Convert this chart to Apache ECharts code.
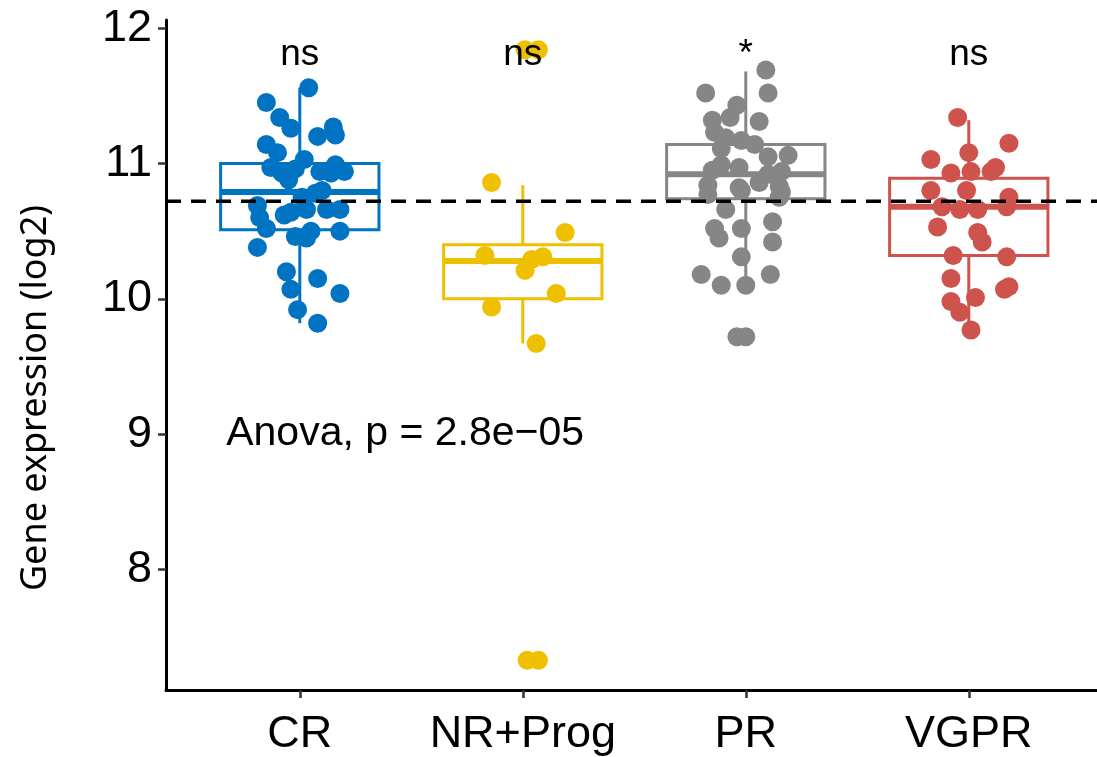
<!DOCTYPE html>
<html>
<head>
<meta charset="utf-8">
<script src="https://cdn.jsdelivr.net/npm/echarts@6/dist/echarts.min.js"></script>
<style>
  html, body { margin: 0; padding: 0; background: #fff; }
  #chart { width: 1097px; height: 757px; }
</style>
</head>
<body>
<div id="chart"></div>
<script>
// groups and colours (jco palette)
var groups = ['CR', 'NR+Prog', 'PR', 'VGPR'];
var colors = ['#0073C2', '#EFC000', '#868686', '#CD534C'];

// box statistics
var boxMin = [9.82, 9.67, 10.09, 9.79];
var boxQ1  = [10.51, 10.00, 10.74, 10.32];
var boxMed = [10.79, 10.28, 10.92, 10.68];
var boxQ3  = [11.00, 10.40, 11.14, 10.89];
var boxMax = [11.56, 10.84, 11.68, 11.32];

// jittered points: offset from group centre (category units) and value
var crJit = [0.04,-0.15,-0.09,-0.04,0.15,0.08,0.16,-0.15,-0.10,0.02,-0.13,-0.08,-0.02,0.09,0.14,0.16,0.20,-0.05,-0.19,-0.18,-0.15,-0.07,-0.04,0.03,0.07,0.12,0.18,0.01,0.10,-0.02,0.03,0.05,0.18,-0.19,-0.06,0.08,-0.04,0.18,-0.01,0.08];
var crVal = [11.56,11.45,11.34,11.26,11.27,11.20,11.21,11.14,11.08,11.03,10.97,10.93,10.96,10.94,10.93,10.99,10.94,10.88,10.69,10.60,10.52,10.62,10.64,10.66,10.78,10.66,10.66,10.75,10.80,10.46,10.45,10.50,10.50,10.38,10.20,10.15,10.07,10.04,9.92,9.82];

var nrJit = [-0.14,-0.17,0.01,0.04,0.09,0.19,0.15,-0.14,0.06,0.01,0.07,0.02,0.07];
var nrVal = [10.86,10.32,10.21,10.29,10.31,10.49,10.04,9.94,9.67,11.84,11.84,7.33,7.33];

var prJit = [0.09,-0.18,0.10,-0.04,-0.07,-0.15,0.06,-0.14,-0.09,-0.02,0.04,-0.11,0.10,0.19,-0.15,-0.03,-0.11,0.10,0.16,-0.17,-0.03,0.06,0.15,0.16,-0.09,-0.14,-0.12,-0.02,0.12,0.12,-0.02,-0.20,-0.11,0.00,0.11,-0.04,0.00,0.15,-0.17,-0.02];
var prVal = [11.69,11.52,11.52,11.43,11.34,11.32,11.31,11.23,11.19,11.17,11.14,11.11,11.05,11.06,10.95,10.97,10.99,10.92,10.94,10.84,10.82,10.86,10.83,10.79,10.66,10.52,10.45,10.52,10.57,10.42,10.31,10.18,10.10,10.10,10.18,9.72,9.72,10.75,10.77,10.80];

var vgJit = [-0.05,0.18,-0.17,0.00,-0.08,0.01,0.10,0.12,-0.17,-0.01,-0.12,-0.04,0.04,0.18,0.17,-0.14,0.04,0.06,-0.07,0.17,-0.08,0.18,0.16,-0.08,-0.04,0.03,0.01];
var vgVal = [11.34,11.15,11.03,11.08,10.93,10.94,10.94,10.97,10.80,10.80,10.68,10.66,10.66,10.75,10.68,10.53,10.49,10.42,10.32,10.31,10.15,10.09,10.07,9.98,9.90,10.01,9.77];

var jits = [crJit, nrJit, prJit, vgJit];
var vals = [crVal, nrVal, prVal, vgVal];

// annotations
var sigLabels = ['ns', 'ns', '*', 'ns'];
var sigY = 11.80;
var refLine = 10.72;
var anovaText = 'Anova, p = 2.8e\u221205';
var anovaPos = [0.67, 9.0];

var yTicks = [8, 9, 10, 11, 12];
var xTicks = [1, 2, 3, 4];

var myChart = echarts.init(document.getElementById('chart'));

var boxData = groups.map(function (g, i) {
  return [i + 1, boxMin[i], boxQ1[i], boxMed[i], boxQ3[i], boxMax[i]];
});

var series = [];

// boxes drawn with custom series (ggplot style: no whisker caps, thick median)
series.push({
  type: 'custom',
  z: 1,
  silent: true,
  data: boxData,
  renderItem: function (params, api) {
    var i = params.dataIndex;
    var x = api.value(0);
    var c = colors[i];
    var half = api.size([0.71, 0])[0] / 2;
    var pMin = api.coord([x, api.value(1)]);
    var pQ1 = api.coord([x, api.value(2)]);
    var pMed = api.coord([x, api.value(3)]);
    var pQ3 = api.coord([x, api.value(4)]);
    var pMax = api.coord([x, api.value(5)]);
    var ls = { stroke: c, lineWidth: 3, fill: null };
    return {
      type: 'group',
      children: [
        { type: 'line', shape: { x1: pMax[0], y1: pMax[1], x2: pQ3[0], y2: pQ3[1] }, style: ls },
        { type: 'line', shape: { x1: pQ1[0], y1: pQ1[1], x2: pMin[0], y2: pMin[1] }, style: ls },
        { type: 'rect', shape: { x: pQ3[0] - half, y: pQ3[1], width: half * 2, height: pQ1[1] - pQ3[1] },
          style: { stroke: c, lineWidth: 3, fill: '#fff' } },
        { type: 'line', shape: { x1: pMed[0] - half, y1: pMed[1], x2: pMed[0] + half, y2: pMed[1] },
          style: { stroke: c, lineWidth: 6 } }
      ]
    };
  }
});

// jittered points
groups.forEach(function (g, i) {
  series.push({
    name: g,
    type: 'scatter',
    z: 2,
    symbolSize: 19,
    itemStyle: { color: colors[i], opacity: 1 },
    data: vals[i].map(function (v, k) { return [i + 1 + jits[i][k], v]; })
  });
});

// dashed reference line
series.push({
  type: 'line',
  z: 3,
  symbol: 'none',
  silent: true,
  lineStyle: { color: '#000', width: 3.5, type: [15, 10] },
  data: [[0.4, refLine], [4.575, refLine]]
});

// text annotations
var textData = groups.map(function (g, i) { return [i + 1, sigY, sigLabels[i]]; });
series.push({
  type: 'custom',
  z: 4,
  silent: true,
  data: textData,
  renderItem: function (params, api) {
    var p = api.coord([api.value(0), api.value(1)]);
    return {
      type: 'text', x: p[0], y: p[1],
      style: { text: sigLabels[params.dataIndex], fill: '#000',
        font: '37px "Liberation Sans", Arial, sans-serif', align: 'center', verticalAlign: 'middle' }
    };
  }
});
series.push({
  type: 'custom',
  z: 4,
  silent: true,
  data: [anovaPos],
  renderItem: function (params, api) {
    var p = api.coord([api.value(0), api.value(1)]);
    return {
      type: 'text', x: p[0], y: p[1],
      style: { text: anovaText, fill: '#000',
        font: '41px "Liberation Sans", Arial, sans-serif', align: 'left', verticalAlign: 'middle' }
    };
  }
});

var option = {
  animation: false,
  backgroundColor: '#fff',
  grid: { left: 166, right: 0, top: 20, bottom: 67, containLabel: false, outerBoundsMode: 'none' },
  xAxis: {
    type: 'value',
    min: 0.4,
    max: 4.575,
    splitLine: { show: false },
    axisLine: { show: true, onZero: false, lineStyle: { color: '#000', width: 3 } },
    axisTick: { show: true, customValues: xTicks, length: 8, lineStyle: { color: '#333', width: 2.5 } },
    axisLabel: {
      customValues: xTicks,
      margin: 22,
      color: '#000',
      fontSize: 45,
      fontFamily: 'Liberation Sans, Arial, sans-serif',
      formatter: function (v) { return groups[Math.round(v) - 1]; }
    }
  },
  yAxis: {
    type: 'value',
    min: 7.11,
    max: 12.06,
    splitLine: { show: false },
    axisLine: { show: true, onZero: false, lineStyle: { color: '#000', width: 3 } },
    axisTick: { show: true, customValues: yTicks, length: 8, lineStyle: { color: '#333', width: 2.5 } },
    axisLabel: {
      customValues: yTicks,
      margin: 14,
      color: '#000',
      fontSize: 45,
      fontFamily: 'Liberation Sans, Arial, sans-serif'
    }
  },
  graphic: [{
    type: 'text',
    x: 36,
    y: 398,
    rotation: Math.PI / 2,
    style: {
      text: 'Gene expression (log2)',
      fill: '#000',
      font: '36px "Noto Sans", "Open Sans", sans-serif',
      align: 'center',
      verticalAlign: 'middle'
    }
  }],
  series: series
};

myChart.setOption(option);
window.addEventListener('resize', function () {
  myChart.resize();
});
</script>
</body>
</html>
